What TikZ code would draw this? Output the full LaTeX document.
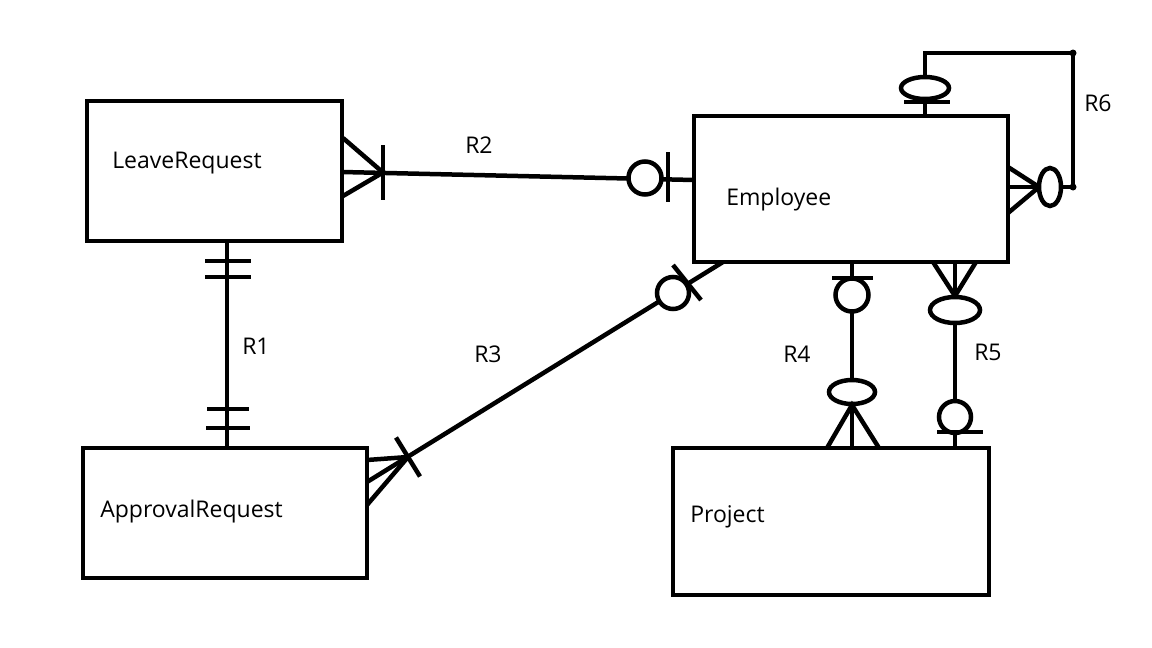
\documentclass[tikz,border=0pt]{standalone}
\usepackage{fontspec}
\setmainfont{Open Sans}
\usetikzlibrary{calc}
\usetikzlibrary{positioning}

\tikzset{entity/.style={draw,rectangle,outer sep=0pt,inner sep=0pt},
  lbl/.style={font=\fontsize{23}{27}\selectfont,inner sep=0pt,anchor=base west},
  hole/.style={fill=white}}

\begin{document}
\begin{tikzpicture}[x=1pt,y=-1pt,line width=4.5pt]
\useasboundingbox (0,0) rectangle (1152,648);
\node[entity,minimum width=255pt,minimum height=140pt] (leave) at (214.5,171) {};
\node[entity,minimum width=284pt,minimum height=130pt] (approval) at (225,513) {};
\node[entity,minimum width=314pt,minimum height=146pt] (employee) at (851,189) {};
\node[entity,minimum width=316pt,minimum height=147pt] (project) at (831,521.5) {};
\node[lbl] (leaveTxt) at (110,168) {LeaveRequest};
\node[lbl] (approvalTxt) at (98,517) {ApprovalRequest};
\node[lbl] (employeeTxt) at (724,205) {Employee};
\node[lbl] (projectTxt) at (688,522) {Project};

% R1
\coordinate (r1a) at ($(leave.south)+(12.5,0)$);
\coordinate (r1b) at ($(approval.north)+(2,0)$);
\draw (r1a) -- (r1b);
\draw (205,261) -- (251,261);
\draw (205,277) -- (251,277);
\draw (207,409) -- (249,409);
\draw (206,428) -- (250,428);
\node[lbl] (r1Txt) at (240,354) {R1};

% R2
\coordinate (r2a) at ($(leave.east)+(0,1)$);
\coordinate (r2b) at ($(employee.west)+(0,-9)$);
\draw (r2a) -- (r2b);
\draw (343,138) -- (383,172.5) -- (343,196);
\draw (383,145) -- (383,200);
\draw[hole] (645,178) circle [radius=16.5pt];
\draw (668,152) -- (668,202);
\node[lbl] (r2Txt) at (463,153) {R2};

% R3
\coordinate (r3a) at ($(approval.east)+(0,-31)$);
\coordinate (r3b) at ($(employee.south)+(-128,0)$);
\draw (r3a) -- (r3b);
\draw (367,460) -- (408,457) -- (367,505);
\draw (396,437.5) -- (420,476.5);
\draw[hole] (673,293) circle [radius=16pt];
\draw (673,265) -- (701,300);
\node[lbl] (r3Txt) at (472,362) {R3};

% R4
\coordinate (r4a) at ($(employee.south)+(1,0)$);
\coordinate (r4b) at ($(project.north)+(21,0)$);
\draw (r4a) -- (r4b);
\draw (832,278) -- (873,278);
\draw[hole] (852,295) circle [radius=16.5pt];
\draw[hole] (852,392) ellipse [x radius=23pt,y radius=12pt];
\draw (827,448) -- (852,405) -- (879,448);
\node[lbl] (r4Txt) at (781,362) {R4};

% R5
\coordinate (r5a) at ($(employee.south)+(104,0)$);
\coordinate (r5b) at ($(project.north)+(124,0)$);
\draw (r5a) -- (r5b);
\draw (933,262) -- (955,296) -- (976,262);
\draw[hole] (955,310) ellipse [x radius=25pt,y radius=13pt];
\draw[hole] (955,417) circle [radius=16pt];
\draw (937,432) -- (983,432);
\node[lbl] (r5Txt) at (972,360) {R5};

% R6
\coordinate (r6a) at ($(employee.north)+(74,0)$);
\coordinate (r6b) at ($(employee.east)+(0,-2)$);
\coordinate (r6c) at (1073,53);
\draw (r6a) |- (r6c) |- (r6b);
\fill (r6c) circle [radius=3.5pt];
\fill (1073,187) circle [radius=3.5pt];
\draw[hole] (925,88) ellipse [x radius=24pt,y radius=11pt];
\draw (904,102) -- (950,102);
\draw (1008,167) -- (1039,187) -- (1008,213);
\draw[hole] (1050,187) ellipse [x radius=11pt,y radius=19pt];
\node[lbl] (r6Txt) at (1082,111) {R6};

\end{tikzpicture}
\end{document}
